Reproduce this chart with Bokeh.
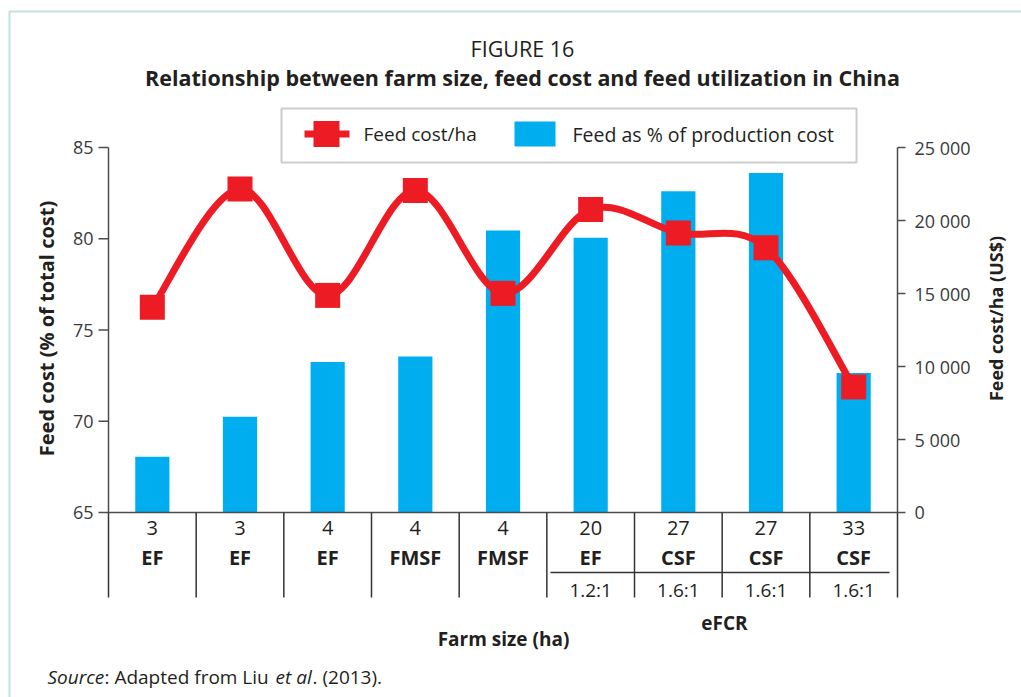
import math
from bokeh.plotting import figure
from bokeh.models import Range1d, Label, BoxAnnotation, ColumnDataSource
from bokeh.core.properties import value
from bokeh.embed import file_html
from bokeh.resources import INLINE

# ---------------- data ----------------
farm_size = ["3", "3", "4", "4", "4", "20", "27", "27", "33"]
farm_type = ["EF", "EF", "EF", "FMSF", "FMSF", "EF", "CSF", "CSF", "CSF"]
efcr = ["", "", "", "", "", "1.2:1", "1.6:1", "1.6:1", "1.6:1"]
feed_pct = [68.05, 70.25, 73.25, 73.55, 80.45, 80.05, 82.6, 83.6, 72.65]
feed_cost_ha = [14050, 22150, 14870, 22060, 15010, 20760, 19150, 18130, 8600]
left_ticks = [65, 70, 75, 80, 85]
left_tick_labels = ["65", "70", "75", "80", "85"]
right_ticks = [0, 5000, 10000, 15000, 20000, 25000]
right_tick_labels = ["0", "5 000", "10 000", "15 000", "20 000", "25 000"]

FONT = "Open Sans"
TXT = "#231F20"
TICK_TXT = "#3A3A3A"
RED = "#ED1C24"
BLUE = "#00AEEF"
AX = "#4D4D4D"

W, H = 1021, 697
n = len(farm_size)
xc = [i + 0.5 for i in range(n)]

# ---- layout geometry (pixels of the page) ----
PLOT_L, PLOT_R = 108, 897          # x of left / right axis
Y_LO_PX, Y_HI_PX = 512, 147        # y of 65 % and 85 %
sx = (PLOT_R - PLOT_L) / n          # px per category
sy = (Y_LO_PX - Y_HI_PX) / (left_ticks[-1] - left_ticks[0])  # px per %

def dx(px):   # page x -> data x
    return (px - PLOT_L) / sx

def dy(py):   # page y -> data y (left scale)
    return left_ticks[0] + (Y_LO_PX - py) / sy

y_lo, y_hi = dy(H), dy(0)
k = (right_ticks[-1] - right_ticks[0]) / (left_ticks[-1] - left_ticks[0])
p = figure(width=W, height=H, x_range=Range1d(dx(0), dx(W)), y_range=Range1d(y_lo, y_hi),
           output_backend="svg", toolbar_location=None, x_axis_type=None, y_axis_type=None,
           title=None, min_border=0, min_border_left=0, min_border_right=0,
           min_border_top=0, min_border_bottom=0)
p.outline_line_color = None
p.grid.visible = False
p.background_fill_color = "white"
p.border_fill_color = "white"
p.extra_y_ranges = {"cost": Range1d((y_lo - left_ticks[0]) * k, (y_hi - left_ticks[0]) * k)}

# ---------------- bars ----------------
src = ColumnDataSource(dict(x=xc, pct=feed_pct, cost=feed_cost_ha,
                            size=farm_size, typ=farm_type, efcr=efcr))
p.vbar(x="x", top="pct", bottom=left_ticks[0], width=0.39, source=src,
       fill_color=BLUE, line_color=None)

# ---------------- axes (drawn with the plot scales) ----------------
lt = ColumnDataSource(dict(x=[0] * len(left_ticks), y=left_ticks, t=left_tick_labels))
p.segment(x0=[0], y0=[left_ticks[0]], x1=[0], y1=[left_ticks[-1]], line_color=AX, line_width=1.5)
p.ray(x="x", y="y", source=lt, length=10, length_units="screen", angle=math.pi,
      line_color=AX, line_width=1.5)
p.text(x="x", y="y", text="t", source=lt, x_offset=-15, text_align="right", text_baseline="middle",
       text_font=value(FONT), text_font_size="18px", text_color=TICK_TXT)

rt = ColumnDataSource(dict(x=[n] * len(right_ticks), y=right_ticks, t=right_tick_labels))
p.segment(x0=[n], y0=[right_ticks[0]], x1=[n], y1=[right_ticks[-1]], y_range_name="cost",
          line_color=AX, line_width=1.5)
p.ray(x="x", y="y", source=rt, y_range_name="cost", length=8, length_units="screen", angle=0,
      line_color=AX, line_width=1.5)
p.text(x="x", y="y", text="t", source=rt, y_range_name="cost", x_offset=17, text_align="left",
       text_baseline="middle", text_font=value(FONT), text_font_size="18px", text_color=TICK_TXT)

# ---------------- category table ----------------
p.segment(x0=[0], y0=[left_ticks[0]], x1=[n], y1=[left_ticks[0]], line_color=AX, line_width=1.5)
p.segment(x0=list(range(n + 1)), y0=[left_ticks[0]] * (n + 1), x1=list(range(n + 1)),
          y1=[dy(597)] * (n + 1), line_color="#333333", line_width=1.5)
p.segment(x0=[dx(550)], y0=[dy(572)], x1=[dx(889)], y1=[dy(572)], line_color="#333333", line_width=1.5)

p.text(x="x", y=dy(527), text="size", source=src, text_align="center", text_baseline="middle",
       text_font=value(FONT), text_font_size="20px", text_color=TXT)
p.text(x="x", y=dy(557), text="typ", source=src, text_align="center", text_baseline="middle",
       text_font=value(FONT), text_font_size="20px", text_font_style="bold", text_color=TXT)
p.text(x="x", y=dy(589), text="efcr", source=src, text_align="center", text_baseline="middle",
       text_font=value(FONT), text_font_size="19px", text_color=TXT)

# ---------------- smooth line (Catmull-Rom as cubic Bezier) ----------------
pts = list(zip(xc, feed_cost_ha))
bz = dict(x0=[], y0=[], x1=[], y1=[], cx0=[], cy0=[], cx1=[], cy1=[])
for i in range(n - 1):
    P0 = pts[i]; P1 = pts[i + 1]
    Pm = pts[i - 1] if i > 0 else pts[i]
    Pp = pts[i + 2] if i + 2 < n else pts[i + 1]
    bz["x0"].append(P0[0]); bz["y0"].append(P0[1])
    bz["x1"].append(P1[0]); bz["y1"].append(P1[1])
    bz["cx0"].append(P0[0] + (P1[0] - Pm[0]) / 6); bz["cy0"].append(P0[1] + (P1[1] - Pm[1]) / 6)
    bz["cx1"].append(P1[0] - (Pp[0] - P0[0]) / 6); bz["cy1"].append(P1[1] - (Pp[1] - P0[1]) / 6)
p.bezier(source=ColumnDataSource(bz), x0="x0", y0="y0", x1="x1", y1="y1",
         cx0="cx0", cy0="cy0", cx1="cx1", cy1="cy1",
         y_range_name="cost", line_color=RED, line_width=7, line_cap="round")
p.scatter(x="x", y="cost", source=src, y_range_name="cost", marker="square", size=25,
          fill_color=RED, line_color=None)

# ---------------- legend (manual) ----------------
p.add_layout(BoxAnnotation(left=281, right=856, top=H - 108, bottom=H - 162,
                           left_units="screen", right_units="screen", top_units="screen", bottom_units="screen",
                           fill_color=None, line_color="#555555", line_width=2))
ly = dy(133.5)
p.segment(x0=[dx(304)], y0=[ly], x1=[dx(349)], y1=[ly], line_color=RED, line_width=7)
p.scatter(x=[dx(326)], y=[ly], marker="square", size=26, fill_color=RED, line_color=None)
p.rect(x=[dx(534.5)], y=[ly], width=41 / sx, height=25 / sy, fill_color=BLUE, line_color=None)


def lab(text, x, y, size="18px", style="normal", align="left", angle=0.0, color=TXT):
    p.add_layout(Label(x=x, y=H - y, x_units="screen", y_units="screen", text=text,
                       text_font=FONT, text_font_size=size, text_font_style=style,
                       text_align=align, text_baseline="middle", angle=angle, text_color=color))


lab("Feed cost/ha", 363, 133.5, size="19px")
lab("Feed as % of production cost", 572, 133.5, size="19.5px")

# ---------------- titles ----------------
lab("FIGURE 16", 522, 48, size="21.5px", align="center")
lab("Relationship between farm size, feed cost and feed utilization in China", 522, 77,
    size="21.5px", style="bold", align="center")
lab("Feed cost (% of total cost)", 46, 328, size="20px", style="bold", align="center", angle=math.pi / 2)
lab("Feed cost/ha (US$)", 995, 318, size="18px", style="bold", align="center", angle=math.pi / 2)
lab("eFCR", 724, 622, size="19px", style="bold", align="center")
lab("Farm size (ha)", 503, 638, size="19px", style="bold", align="center")

# ---------------- source line ----------------
lab("Source", 47, 676, size="19px", style="italic")
lab(": Adapted from Liu", 104, 676, size="19px")
lab("et al", 275, 676, size="19px", style="italic")
lab(". (2013).", 312, 676, size="19px")

# ---------------- outer teal frame ----------------
p.add_layout(BoxAnnotation(left=9, right=W + 50, top=H - 11, bottom=-50,
                           left_units="screen", right_units="screen", top_units="screen", bottom_units="screen",
                           fill_color=None, line_color="#2A9D96", line_width=2))

open("out.html", "w").write(file_html(p, INLINE))
